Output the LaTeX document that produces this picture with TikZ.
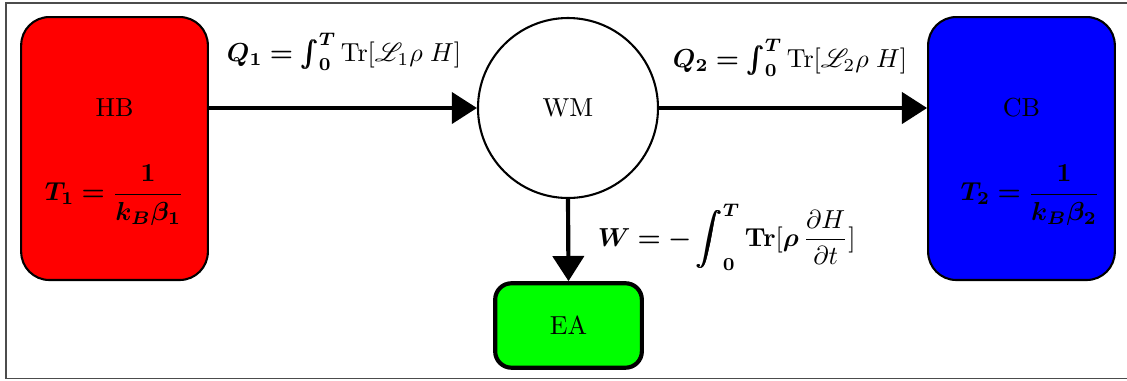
\documentclass[tikz,border=0pt]{standalone}
\usepackage{amsmath}
\usepackage{bm}
\usepackage{mathrsfs}
\usetikzlibrary{arrows.meta,positioning,shapes.geometric}

\begin{document}
\begin{tikzpicture}[%
>={Triangle[length=0.34cm,width=0.42cm]},
bath/.style={draw=black, line width=0.8pt, rounded corners=0.38cm,
  minimum width=2.52cm, minimum height=3.55cm},
machine/.style={draw=black, line width=0.8pt, circle, minimum size=2.43cm},
agent/.style={draw=black, line width=1.6pt, rounded corners=0.22cm,
  fill=green, minimum width=1.98cm, minimum height=1.14cm},
flow/.style={->, line width=1.6pt}
]
\useasboundingbox (0,0) rectangle (15.2145,-5.13);
\draw[gray!60!black, line width=0.5pt] (0.081,-0.04) rectangle (15.4,-5.11);

% reservoirs and machine
\node[bath, fill=red] (HB) at (1.546,-2.005) {};
\node[bath, fill=blue] (CB) at (13.79,-2.005) {};
\node[machine] (WM) at (7.668,-1.458) {WM};
\node[agent] (EA) at (7.675,-4.394) {EA};

% bath texts
\node (HBname) at ([yshift=0.547cm]HB.center) {HB};
\node (HBtemp) at ([yshift=-0.63cm]HB.center)
  {$\displaystyle\bm{T_1=\frac{1}{k_B\beta_1}}$};
\node (CBname) at ([yshift=0.547cm]CB.center) {CB};
\node (CBtemp) at ([xshift=0.12cm,yshift=-0.63cm]CB.center)
  {$\displaystyle\bm{T_2=\frac{1}{k_B\beta_2}}$};

% heat and work flows
\path[flow] (HB.east |- WM.west) edge (WM.west);
\path[flow] (WM.east) edge (CB.west |- WM.east);
\path[flow] (WM.south) edge (EA.north);

\node (Q1) at (4.644,-0.702)
  {$\bm{Q_1=\int_0^T}\mathrm{Tr}[\mathscr{L}_1\rho\;H]$};
\node (Q2) at (10.665,-0.78)
  {$\bm{Q_2=\int_0^T}\mathrm{Tr}[\mathscr{L}_2\rho\;H]$};
\node (W) at (9.81,-3.2)
  {$\displaystyle\bm{W=-\int_0^T}\mathbf{Tr}[\bm{\rho}\,\frac{\partial H}{\partial t}]$};

\end{tikzpicture}
\end{document}
